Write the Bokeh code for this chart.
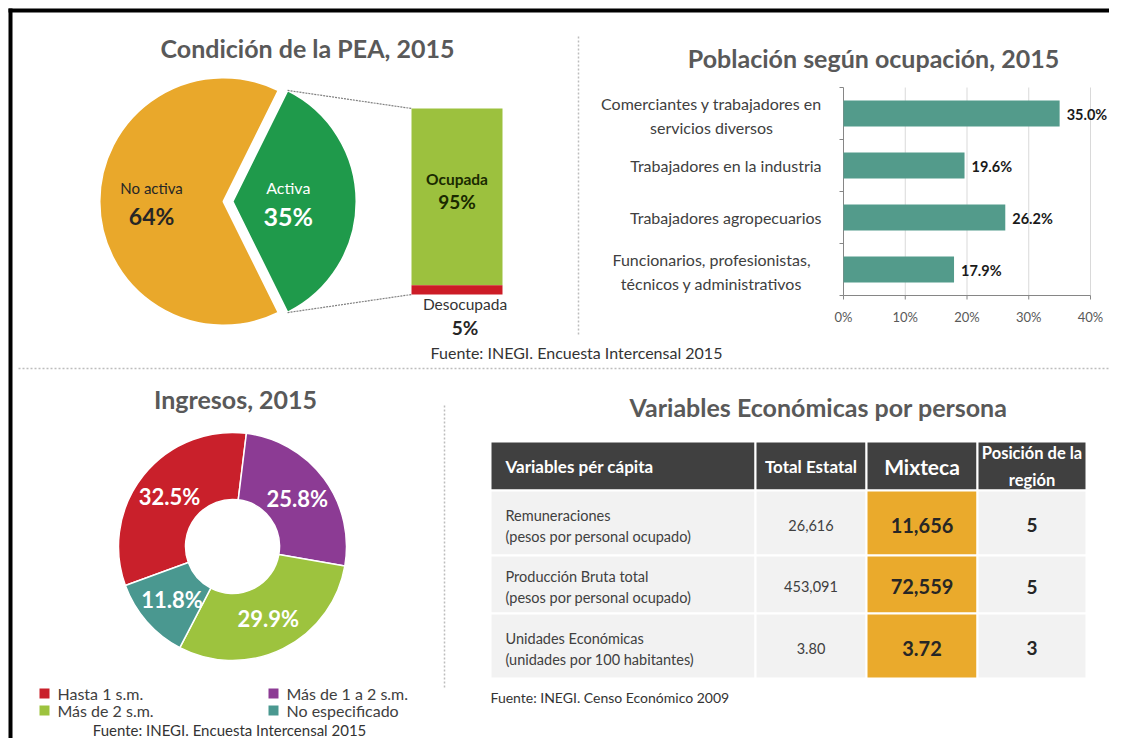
import math
from bokeh.plotting import figure
from bokeh.models import Range1d
from bokeh.core.properties import value
from bokeh.embed import file_html
from bokeh.resources import INLINE

FONT = "Lato"

# ---------------- data ----------------
pea_labels = ["No activa", "Activa"]
pea_values = [64, 35]
pea_colors = ["#E9A82B", "#1F9A4B"]
pea_text_colors = ["#262626", "#FFFFFF"]

pea_sub_labels = ["Ocupada", "Desocupada"]
pea_sub_values = [95, 5]
pea_sub_colors = ["#9CC13E", "#CC1C26"]

occ_labels = ["Comerciantes y trabajadores en\nservicios diversos",
              "Trabajadores en la industria",
              "Trabajadores agropecuarios",
              "Funcionarios, profesionistas,\ntécnicos y administrativos"]
occ_values = [35.0, 19.6, 26.2, 17.9]
occ_ticks = [0, 10, 20, 30, 40]

inc_labels = ["Hasta 1 s.m.", "Más de 1 a 2 s.m.", "Más de 2 s.m.", "No especificado"]
inc_values = [32.5, 25.8, 29.9, 11.8]
inc_colors = ["#C9202B", "#8C3B94", "#9DC33E", "#4A9890"]

tbl_header = ["Variables pér cápita", "Total Estatal", "Mixteca", "Posición de la\nregión"]
tbl_vars = ["Remuneraciones", "Producción Bruta total", "Unidades Económicas"]
tbl_units = ["(pesos por personal ocupado)", "(pesos por personal ocupado)",
             "(unidades por 100 habitantes)"]
tbl_total = ["26,616", "453,091", "3.80"]
tbl_mixteca = ["11,656", "72,559", "3.72"]
tbl_pos = ["5", "5", "3"]

titles = ["Condición de la PEA, 2015", "Población según ocupación, 2015",
          "Ingresos, 2015", "Variables Económicas por persona"]
sources = ["Fuente: INEGI. Encuesta Intercensal 2015",
           "Fuente: INEGI. Encuesta Intercensal 2015",
           "Fuente: INEGI. Censo Económico 2009"]

# ---------------- canvas ----------------
W, H = 1109, 738


def PY(py):
    return H - py


def lin_range(v0, q0, v1, q1, qmin, qmax):
    k = (q1 - q0) / (v1 - v0)
    return Range1d(start=v0 + (qmin - q0) / k, end=v0 + (qmax - q0) / k)


p = figure(width=W, height=H, x_range=Range1d(0, W), y_range=Range1d(0, H),
           x_axis_location=None, y_axis_location=None, min_border=0,
           toolbar_location=None, output_backend="svg")
p.outline_line_color = None
p.xgrid.visible = False
p.ygrid.visible = False
p.background_fill_color = "white"
p.border_fill_color = "white"

OCC_X0, OCC_X1 = 843, 1090
OCC_TOP, OCC_BOT = 87, 295
STK_X0, STK_X1, STK_TOP, STK_BOT = 411, 502, 108, 294
n_occ = len(occ_labels)
p.extra_x_ranges = {"pct": lin_range(occ_ticks[0], OCC_X0, occ_ticks[-1], OCC_X1, 0, W)}
p.extra_y_ranges = {"band": lin_range(0, PY(OCC_BOT), n_occ, PY(OCC_TOP), 0, H),
                    "stk": lin_range(0, PY(STK_BOT), 100, PY(STK_TOP), 0, H)}


def txt(x, y, text, size, color="#404040", bold=False, align="center",
        baseline="middle", **kw):
    if not isinstance(text, list):
        x, y, text = [x], [y], [text]
    return p.text(x=x, y=y, text=text, text_font=value(FONT),
                  text_font_size=f"{size}px",
                  text_font_style="bold" if bold else "normal",
                  text_color=color, text_align=align, text_baseline=baseline, **kw)


# frame border (top and left visible)
p.quad(left=[8, 8], right=[12, W], bottom=[0, PY(12)], top=[PY(8), PY(8)],
       fill_color="black", line_color=None)

# dotted separators
p.segment(x0=[578, 18, 444], y0=[PY(36), PY(368), PY(405)],
          x1=[578, W, 444], y1=[PY(334), PY(368), PY(689)],
          line_color="#BDBDBD", line_width=1.5, line_dash="2 2")

# titles
txt([307, 873, 235, 818], [PY(47), PY(57), PY(398), PY(406)], titles, 25,
    color="#595959", bold=True)

# ---------------- pie of bar ----------------
PIE_CX, PIE_CY, PIE_R, EXPLODE = 223, 201, 124, 9
tot = sum(pea_values)
ang = [v / tot * 2 * math.pi for v in pea_values]
a_act = ang[1]
starts = [a_act / 2, -a_act / 2]
ends = [a_act / 2 + ang[0], a_act / 2]
cxs = [PIE_CX, PIE_CX + EXPLODE]
p.wedge(x=cxs, y=[PY(PIE_CY)] * 2, radius=PIE_R, radius_units="screen",
        start_angle=starts, end_angle=ends, fill_color=pea_colors,
        line_color="white", line_width=2)
lab_f = [0.58, 0.45]
mids = [(s + e) / 2 for s, e in zip(starts, ends)]
lx = [cx + f * PIE_R * math.cos(m) for cx, f, m in zip(cxs, lab_f, mids)]
ly = [PY(PIE_CY) + f * PIE_R * math.sin(m) for f, m in zip(lab_f, mids)]
name_sz = [15, 16]
pct_sz = [23, 25]
for i in range(2):
    txt(lx[i], ly[i], pea_labels[i], name_sz[i], color=pea_text_colors[i], y_offset=-14)
    txt(lx[i], ly[i], f"{pea_values[i]}%", pct_sz[i], color=pea_text_colors[i],
        bold=True, y_offset=14)

# connectors from the Activa slice to the bar
gx = PIE_CX + EXPLODE
p.segment(x0=[gx + PIE_R * math.cos(a_act / 2), gx + PIE_R * math.cos(-a_act / 2)],
          y0=[PY(PIE_CY) + PIE_R * math.sin(a_act / 2),
              PY(PIE_CY) + PIE_R * math.sin(-a_act / 2)],
          x1=[STK_X0, STK_X0], y1=[PY(STK_TOP), PY(STK_BOT)],
          line_color="#808080", line_width=1.2, line_dash="2 1")

# stacked bar (Desocupada at the bottom)
bottoms = [pea_sub_values[1], 0]
tops = [pea_sub_values[1] + pea_sub_values[0], pea_sub_values[1]]
p.quad(left=STK_X0, right=STK_X1, bottom=bottoms, top=tops, fill_color=pea_sub_colors,
       line_color=None, y_range_name="stk")
scx = (STK_X0 + STK_X1) / 2
ymid = (bottoms[0] + tops[0]) / 2
txt(scx, ymid, pea_sub_labels[0], 15.5, color="#1A2A00", bold=True, y_offset=-18,
    y_range_name="stk")
txt(scx, ymid, f"{pea_sub_values[0]}%", 19, color="#1A2A00", bold=True, y_offset=5,
    y_range_name="stk")
txt(scx + 8, 0, pea_sub_labels[1], 15.5, color="#333333", y_offset=9,
    y_range_name="stk")
txt(scx + 8, 0, f"{pea_sub_values[1]}%", 19, color="#262626", bold=True, y_offset=33,
    y_range_name="stk")

txt(576, PY(352), sources[0], 16, color="#333333")

# ---------------- occupation bars ----------------
u = [n_occ - k - 0.5 for k in range(n_occ)]
k_pct = (OCC_X1 - OCC_X0) / (occ_ticks[-1] - occ_ticks[0])
k_band = (OCC_BOT - OCC_TOP) / n_occ
p.segment(x0=occ_ticks[1:], y0=0, x1=occ_ticks[1:], y1=n_occ, line_color="#D9D9D9",
          line_width=1, x_range_name="pct", y_range_name="band")
p.segment(x0=[0, 0], y0=[0, 0], x1=[0, occ_ticks[-1]], y1=[n_occ, 0],
          line_color="#868686", line_width=1, x_range_name="pct", y_range_name="band")
# tick marks
p.segment(x0=[0] * (n_occ + 1), y0=list(range(n_occ + 1)),
          x1=[-4 / k_pct] * (n_occ + 1), y1=list(range(n_occ + 1)),
          line_color="#868686", line_width=1, x_range_name="pct", y_range_name="band")
p.segment(x0=occ_ticks, y0=[0] * len(occ_ticks), x1=occ_ticks,
          y1=[-4 / k_band] * len(occ_ticks),
          line_color="#868686", line_width=1, x_range_name="pct", y_range_name="band")
p.hbar(y=u, left=0, right=occ_values, height=0.5, fill_color="#539B8B", line_color=None,
       x_range_name="pct", y_range_name="band")
txt(occ_values, u, [f"{v:.1f}%" for v in occ_values], 14.5, color="#1A1A1A", bold=True,
    align="left", x_offset=7, y_offset=1, x_range_name="pct", y_range_name="band")
txt(occ_ticks, [0] * len(occ_ticks), [f"{t}%" for t in occ_ticks], 13, color="#595959",
    y_offset=21, x_range_name="pct", y_range_name="band")
multi = [i for i, l in enumerate(occ_labels) if "\n" in l]
single = [i for i, l in enumerate(occ_labels) if "\n" not in l]
txt([711] * len(multi), [u[i] for i in multi], [occ_labels[i] for i in multi], 16,
    color="#404040", text_line_height=1.28, y_offset=2, y_range_name="band")
txt([821] * len(single), [u[i] for i in single], [occ_labels[i] for i in single], 16,
    color="#404040", align="right", y_range_name="band")

# ---------------- income donut ----------------
DCX, DCY, R_OUT, R_IN = 232, 546, 114, 47
FIRST = 250.0  # angle of first slice, degrees clockwise from 12 o'clock
tot_i = sum(inc_values)
cum = 0.0
d_start, d_end, d_mid = [], [], []
for v in inc_values:
    c0 = FIRST + cum / tot_i * 360
    c1 = c0 + v / tot_i * 360
    d_start.append(math.radians(90 - c1))
    d_end.append(math.radians(90 - c0))
    d_mid.append(math.radians(90 - (c0 + c1) / 2))
    cum += v
p.annular_wedge(x=DCX, y=PY(DCY), inner_radius=R_IN, outer_radius=R_OUT,
                inner_radius_units="screen", outer_radius_units="screen",
                start_angle=d_start, end_angle=d_end, fill_color=inc_colors,
                line_color="white", line_width=1.5)
rl = (R_IN + R_OUT) / 2
txt([DCX + rl * math.cos(m) for m in d_mid], [PY(DCY) + rl * math.sin(m) for m in d_mid],
    [f"{v:.1f}%" for v in inc_values], 22, color="white", bold=True)

LEG_X = [44, 273]
LEG_Y = [693, 710]
lgx = [LEG_X[i % 2] for i in range(len(inc_labels))]
lgy = [PY(LEG_Y[i // 2]) for i in range(len(inc_labels))]
p.scatter(x=lgx, y=lgy, marker="square", size=10, fill_color=inc_colors, line_color=None)
txt([x + 13 for x in lgx], lgy, inc_labels, 16, color="#404040", align="left")
txt(229, PY(729), sources[1], 15, color="#333333")

# ---------------- table ----------------
TX = [490, 755, 866, 977, 1086]
TY = [441, 490, 555, 613, 678]
ncol = len(tbl_header)
nrow = len(tbl_vars)
p.quad(left=TX[:-1], right=TX[1:], bottom=[PY(TY[1])] * ncol, top=[PY(TY[0])] * ncol,
       fill_color="#404040", line_color="white", line_width=2)
cl, cr, cb, ct, cf = [], [], [], [], []
for r in range(nrow):
    for c in range(ncol):
        cl.append(TX[c]); cr.append(TX[c + 1])
        cb.append(PY(TY[r + 2])); ct.append(PY(TY[r + 1]))
        cf.append("#EAAA2C" if c == 2 else "#F2F2F2")
p.quad(left=cl, right=cr, bottom=cb, top=ct, fill_color=cf, line_color="white",
       line_width=2)
ccx = [(TX[c] + TX[c + 1]) / 2 for c in range(ncol)]
hy = PY((TY[0] + TY[1]) / 2)
txt(TX[0] + 15, hy, tbl_header[0], 17, color="white", bold=True, align="left")
txt(ccx[1], hy, tbl_header[1], 17, color="white", bold=True)
txt(ccx[2], hy, tbl_header[2], 21, color="white", bold=True)
txt(ccx[3], hy, tbl_header[3], 16.5, color="white", bold=True, text_line_height=1.35)
ry = [PY((TY[r + 1] + TY[r + 2]) / 2) for r in range(nrow)]
txt([TX[0] + 15] * nrow, ry, tbl_vars, 14.5, color="#404040", align="left", y_offset=-8)
txt([TX[0] + 15] * nrow, ry, tbl_units, 14.5, color="#404040", align="left", y_offset=13)
txt([ccx[1]] * nrow, ry, tbl_total, 14.5, color="#404040", y_offset=2)
txt([ccx[2]] * nrow, ry, tbl_mixteca, 20, color="#262626", bold=True, y_offset=2)
txt([ccx[3]] * nrow, ry, tbl_pos, 19, color="#262626", bold=True, y_offset=2)
txt(490, PY(697), sources[2], 14, color="#333333", align="left")

open("out.html", "w").write(file_html(p, INLINE))
